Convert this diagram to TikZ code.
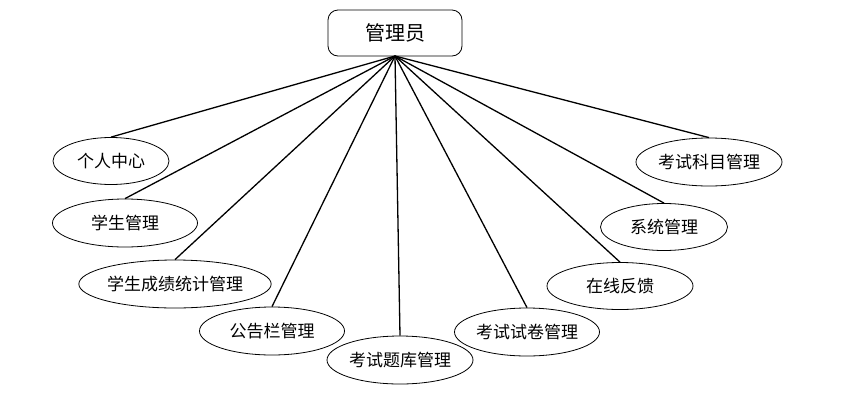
\documentclass[tikz,border=0pt]{standalone}
\usepackage{fontspec}
\newfontfamily\cjk{Noto Sans CJK SC}
\usetikzlibrary{shapes.geometric}
\begin{document}
\begin{tikzpicture}[x=1pt,y=-1pt,
  ell/.style={draw,ellipse,line width=0.8pt,inner sep=0pt,font=\cjk\fontsize{17}{20}\selectfont},
  top/.style={draw,rounded corners=10pt,line width=0.8pt,minimum width=134pt,minimum height=46pt,inner sep=0pt,font=\cjk\fontsize{20}{24}\selectfont},
  conn/.style={line width=1.3pt}]
\useasboundingbox (0,0) rectangle (865,405);
\node[top] (admin) at (395,33) {管理员};
\coordinate (hub) at (395,56);
\node[ell,minimum width=116pt,minimum height=47pt] (e1) at (111,161) {个人中心};
\node[ell,minimum width=145pt,minimum height=48pt] (e2) at (125,223) {学生管理};
\node[ell,minimum width=190pt,minimum height=48pt] (e3) at (175,284) {学生成绩统计管理};
\node[ell,minimum width=145pt,minimum height=48pt] (e4) at (272,331) {公告栏管理};
\node[ell,minimum width=146pt,minimum height=48pt] (e5) at (400,360) {考试题库管理};
\node[ell,minimum width=145pt,minimum height=48pt] (e6) at (527,332) {考试试卷管理};
\node[ell,minimum width=146pt,minimum height=47pt] (e7) at (620,286) {在线反馈};
\node[ell,minimum width=127pt,minimum height=47pt] (e8) at (664,227) {系统管理};
\node[ell,minimum width=146pt,minimum height=48pt] (e9) at (709,162) {考试科目管理};
\foreach \n in {e1,e2,e3,e4,e5,e6,e7,e8,e9}
  \draw[conn] (hub) -- (\n.north);
\end{tikzpicture}
\end{document}
